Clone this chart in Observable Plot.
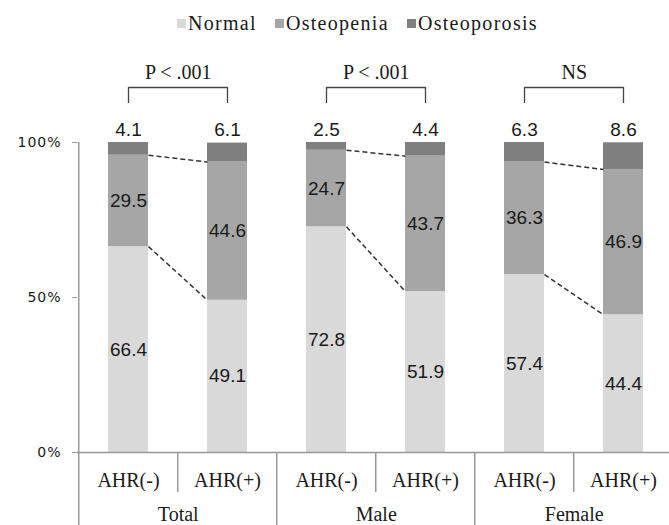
<!DOCTYPE html>
<html>
<head>
<meta charset="utf-8">
<script src="https://cdn.jsdelivr.net/npm/d3@7"></script>
<script src="https://cdn.jsdelivr.net/npm/@observablehq/plot@0.6"></script>
<style>
  html, body { margin: 0; padding: 0; background: #fff; }
  #legend { height: 46px; display: flex; align-items: center; padding-left: 177px;
            font-family: "Liberation Serif", serif; font-size: 20px; letter-spacing: 1.3px; color: #1a1a1a; }
  .item { display: flex; align-items: center; margin-right: 18px; }
  .sw { width: 9px; height: 9px; margin-right: 2px; }
  #chart svg { display: block; }
  g[aria-label="y-axis tick label"] text { letter-spacing: 1px; }
  g[aria-label="y-axis tick"] { stroke: #999; }
</style>
</head>
<body>
<div id="legend"></div>
<div id="chart"></div>
<script>
// ---- data ----
const groups = ["Total", "Male", "Female"];
const ahrLabels = ["AHR(-)", "AHR(+)"];
const categories = ["Normal", "Osteopenia", "Osteoporosis"];
const normal = [66.4, 49.1, 72.8, 51.9, 57.4, 44.4];
const osteopenia = [29.5, 44.6, 24.7, 43.7, 36.3, 46.9];
const osteoporosis = [4.1, 6.1, 2.5, 4.4, 6.3, 8.6];
const pValues = ["P < .001", "P < .001", "NS"];
const yTicks = [0, 0.5, 1];
const colors = ["#d9d9d9", "#a6a6a6", "#7f7f7f"];

// ---- derived tables ----
const series = [normal, osteopenia, osteoporosis];
const bars = groups.flatMap((g, gi) => ahrLabels.map((a, ai) => ({group: g, ahr: a, ai, key: g + "|" + a, i: gi * 2 + ai})));
const rows = bars.flatMap(b => categories.map((c, ci) => ({key: b.key, category: c, value: series[ci][b.i] / 100, label: series[ci][b.i]})));
const groupRows = groups.map((g, gi) => ({group: g, p: pValues[gi], k0: bars[gi * 2].key, k1: bars[gi * 2 + 1].key}));
const links = groupRows.flatMap((r, gi) => [
  {a: r.k0, b: r.k1, y1: normal[2 * gi] / 100, y2: normal[2 * gi + 1] / 100},
  {a: r.k0, b: r.k1, y1: (normal[2 * gi] + osteopenia[2 * gi]) / 100, y2: (normal[2 * gi + 1] + osteopenia[2 * gi + 1]) / 100}
]);

// ---- legend ----
const legend = document.getElementById("legend");
categories.forEach((c, i) => {
  const item = document.createElement("div");
  item.className = "item";
  const sw = document.createElement("span");
  sw.className = "sw";
  sw.style.background = colors[i];
  const t = document.createElement("span");
  t.textContent = c;
  item.append(sw, t);
  legend.append(item);
});

// ---- layout ----
const W = 669, H = 479, mT = 96, mB = 73, mL = 77;
const xRange = [77, 674], pInner = 0.6, pOuter = 0.3;
const step = (xRange[1] - xRange[0]) / (bars.length - pInner + 2 * pOuter);
const frameH = H - mT - mB;
const gray = "#999";
const serif = "Liberation Serif";
const sans = "Liberation Sans";

const edgeLinks = (index, scales, values, dims, ctx, next) => {
  const s = scales.x;
  const bw = typeof s.bandwidth === "function" ? s.bandwidth() : s.bandwidth;
  const x1 = Array.from(values.x1, v => v + bw / 2);
  const x2 = Array.from(values.x2, v => v - bw / 2);
  return next(index, scales, {...values, x1, x2}, dims, ctx);
};

const chart = Plot.plot({
  width: W, height: H,
  marginTop: mT, marginBottom: mB, marginLeft: mL, marginRight: 0,
  x: {domain: bars.map(b => b.key), range: xRange, paddingInner: pInner, paddingOuter: pOuter},
  y: {domain: [0, 1]},
  color: {domain: categories, range: colors},
  style: {fontFamily: serif, fontSize: "20px", color: "#1a1a1a", background: "#fff", overflow: "visible"},
  marks: [
    Plot.barY(rows, {x: "key", y: "value", fill: "category"}),
    Plot.text(rows, Plot.stackY({x: "key", y: "value", z: "category",
      text: d => d.category === "Osteoporosis" ? null : d.label.toFixed(1),
      fontFamily: sans, fontSize: 19, fill: "#1a1a1a"})),
    Plot.text(bars, {x: "key", frameAnchor: "top", dy: -13, lineAnchor: "middle",
      text: d => osteoporosis[d.i].toFixed(1), fontFamily: sans, fontSize: 19, fill: "#1a1a1a"}),
    Plot.link(links, {x1: "a", x2: "b", y1: "y1", y2: "y2", stroke: "#333", strokeWidth: 1.5,
      strokeDasharray: "5,3", render: edgeLinks}),
    // brackets
    Plot.ruleX(bars, {x: "key", insetTop: -55, insetBottom: frameH + 39, stroke: "#444", strokeWidth: 1.3}),
    Plot.link(groupRows, {x1: "k0", x2: "k1", y1: () => 1, y2: () => 1, dy: -55, stroke: "#444", strokeWidth: 1.3}),
    Plot.text(groupRows, {x: "k0", dx: step / 2, frameAnchor: "top", dy: -70, lineAnchor: "middle",
      text: "p", fontFamily: serif, fontSize: 20}),
    // axes
    Plot.ruleY([0], {stroke: gray, strokeWidth: 1.5}),
    Plot.axisY(yTicks, {tickFormat: d3.format(".0%"), tickSize: 5, tickPadding: 11, fontSize: 14,
      fontFamily: "DejaVu Sans", stroke: gray, label: null}),
    Plot.axisX({tickSize: 0, tickPadding: 20, tickFormat: d => d.split("|")[1], fontSize: 20,
      fontFamily: serif, label: null}),
    // table lines under the x axis
    Plot.ruleX(bars.slice(0, 1), {x: "key", dx: -step / 2, insetTop: 0, insetBottom: -mB, stroke: gray, strokeWidth: 1.5}),
    Plot.ruleX(bars.filter(b => b.ai === 0 && b.i > 0), {x: "key", dx: -step / 2, insetTop: frameH, insetBottom: -mB, stroke: gray, strokeWidth: 1.5}),
    Plot.ruleX(bars.filter(b => b.ai === 1), {x: "key", dx: -step / 2, insetTop: frameH, insetBottom: -40, stroke: gray, strokeWidth: 1.5}),
    Plot.text(groupRows, {x: "k0", dx: step / 2, frameAnchor: "bottom", dy: 62, lineAnchor: "middle",
      text: "group", fontFamily: serif, fontSize: 20})
  ]
});
document.getElementById("chart").append(chart);
</script>
</body>
</html>
